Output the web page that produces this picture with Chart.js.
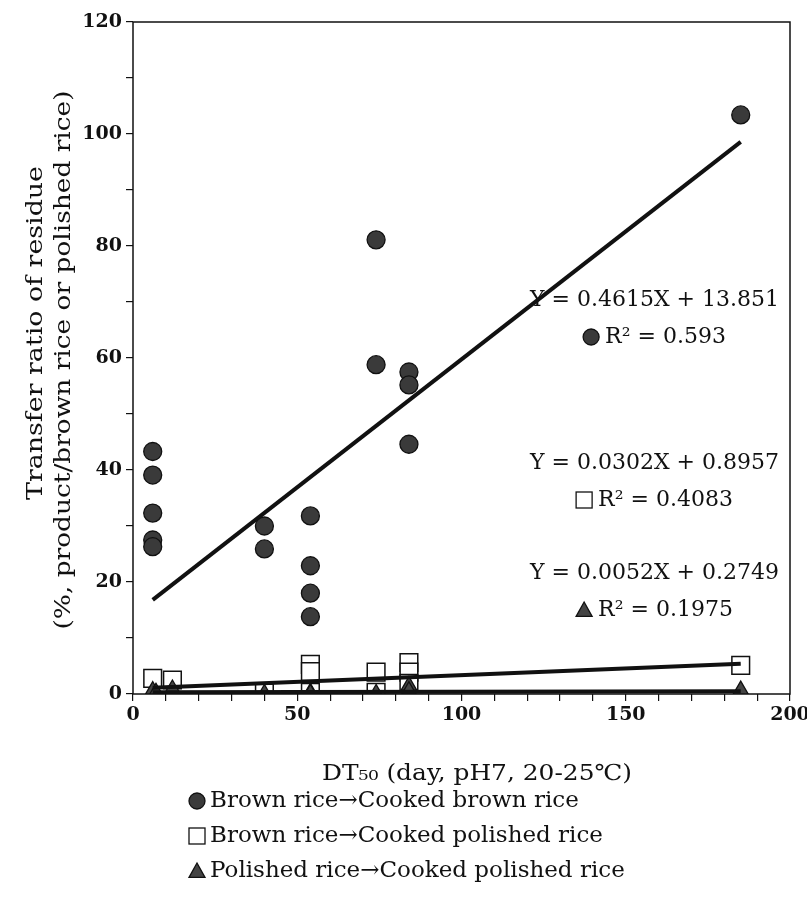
<!DOCTYPE html>
<html>
<head>
<meta charset="utf-8">
<script src="https://cdn.jsdelivr.net/npm/chart.js@4.4.1/dist/chart.umd.min.js"></script>
<style>
  html, body { margin: 0; padding: 0; background: #fff; }
  #wrap { width: 807px; height: 897px; position: relative; }
</style>
</head>
<body>
<div id="wrap"><canvas id="chart"></canvas></div>
<script>
/* ---- data ---- */
const brownX = [6, 6, 6, 6, 6, 40, 40, 54, 54, 54, 54, 74, 74, 84, 84, 84, 185];
const brownY = [43.3, 39.1, 32.3, 27.5, 26.3, 30.0, 25.9, 31.8, 22.9, 18.0, 13.8, 81.1, 58.8, 57.5, 55.2, 44.6, 103.4];

const squareX = [6, 12, 40, 54, 54, 54, 74, 74, 84, 84, 84, 185];
const squareY = [2.8, 2.5, 0.2, 5.3, 4.0, 0.3, 3.9, 0.3, 5.6, 3.9, 1.9, 5.1];

const triX = [6, 7, 12, 40, 54, 54, 74, 84, 84, 185];
const triY = [0.6, 0.3, 0.9, 0.1, 0.3, 0.1, 0.1, 1.5, 0.6, 0.7];

// regression line end points
const brownFitX  = [6, 185];
const brownFitY  = [16.8, 98.6];
const squareFitX = [6, 185];
const squareFitY = [1.1, 5.4];
const triFitX    = [6, 185];
const triFitY    = [0.3, 0.5];

const seriesNames = [
  'Brown rice\u2192Cooked brown rice',
  'Brown rice\u2192Cooked polished rice',
  'Polished rice\u2192Cooked polished rice'
];
const equations = [
  ['Y = 0.4615X + 13.851', 'R\u00b2 = 0.593'],
  ['Y = 0.0302X + 0.8957', 'R\u00b2 = 0.4083'],
  ['Y = 0.0052X + 0.2749', 'R\u00b2 = 0.1975']
];

const SERIF = '"DejaVu Serif", "Liberation Serif", serif';
const INK = '#111';

function pts(xs, ys) {
  return xs.map((x, i) => ({ x, y: ys[i] }));
}

// draw text stretched horizontally to a given width
function fitText(ctx, text, x, y, width, size) {
  ctx.font = size + 'px ' + SERIF;
  const s = width / ctx.measureText(text).width;
  ctx.save();
  ctx.translate(x, y);
  ctx.scale(s, 1);
  ctx.textAlign = 'center';
  ctx.fillText(text, 0, 0);
  ctx.restore();
}

/* ---- symbol helpers (legend + equation keys) ---- */
function drawSymbol(ctx, kind, cx, cy, r) {
  ctx.save();
  ctx.lineWidth = 1.3;
  ctx.strokeStyle = INK;
  if (kind === 'circle') {
    ctx.fillStyle = '#3a3a3a';
    ctx.beginPath();
    ctx.arc(cx, cy, r, 0, Math.PI * 2);
    ctx.fill();
    ctx.stroke();
  } else if (kind === 'rect') {
    ctx.fillStyle = '#fff';
    ctx.fillRect(cx - r, cy - r, 2 * r, 2 * r);
    ctx.strokeRect(cx - r, cy - r, 2 * r, 2 * r);
  } else {
    ctx.fillStyle = '#444';
    ctx.beginPath();
    ctx.moveTo(cx, cy - r);
    ctx.lineTo(cx + r, cy + r * 0.8);
    ctx.lineTo(cx - r, cy + r * 0.8);
    ctx.closePath();
    ctx.fill();
    ctx.stroke();
  }
  ctx.restore();
}

const KINDS = ['circle', 'rect', 'triangle'];

/* ---- annotations drawn on top ---- */
const annotations = {
  id: 'annotations',
  afterDraw(chart) {
    const ctx = chart.ctx;
    const a = chart.chartArea;
    ctx.save();

    // frame
    ctx.strokeStyle = INK;
    ctx.lineWidth = 1.5;
    ctx.strokeRect(a.left, a.top, a.right - a.left, a.bottom - a.top);

    ctx.fillStyle = INK;
    ctx.textBaseline = 'middle';

    // equations
    ctx.font = '22px ' + SERIF;
    const eqY = [300, 463, 573];
    equations.forEach((eq, i) => {
      ctx.textAlign = 'right';
      ctx.fillText(eq[0], 779, eqY[i]);
      const w0 = ctx.measureText(eq[0]).width;
      const cx = 779 - w0 / 2;
      const w1 = ctx.measureText(eq[1]).width;
      const total = 22 + w1;
      const sx = cx - total / 2;
      drawSymbol(ctx, KINDS[i], sx + 8, eqY[i] + 37, 8);
      ctx.textAlign = 'left';
      ctx.fillText(eq[1], sx + 22, eqY[i] + 37);
    });

    // x axis title
    fitText(ctx, 'DT\u2085\u2080 (day, pH7, 20-25\u2103)', 477, 774, 310, 22);

    // y axis title
    ctx.save();
    ctx.rotate(-Math.PI / 2);
    fitText(ctx, 'Transfer ratio of residue', -333, 36, 334, 23);
    fitText(ctx, '(%, product/brown rice or polished rice)', -360, 64, 539, 23);
    ctx.restore();

    // legend
    ctx.font = '23px ' + SERIF;
    ctx.textAlign = 'left';
    const legY = [801, 836, 871];
    seriesNames.forEach((name, i) => {
      drawSymbol(ctx, KINDS[i], 197, legY[i], 8);
      ctx.fillText(name, 210, legY[i]);
    });

    ctx.restore();
  }
};

const tickFont = { family: SERIF, size: 19, weight: 'bold' };

new Chart(document.getElementById('chart'), {
  type: 'scatter',
  data: {
    datasets: [
      {
        label: 'brown fit', type: 'line', data: pts(brownFitX, brownFitY),
        borderColor: INK, borderWidth: 4, pointRadius: 0, order: 1
      },
      {
        label: 'square fit', type: 'line', data: pts(squareFitX, squareFitY),
        borderColor: INK, borderWidth: 4, pointRadius: 0, order: 1
      },
      {
        label: 'triangle fit', type: 'line', data: pts(triFitX, triFitY),
        borderColor: INK, borderWidth: 4, pointRadius: 0, order: 1
      },
      {
        label: seriesNames[0], data: pts(brownX, brownY),
        pointStyle: 'circle', pointRadius: 9,
        backgroundColor: '#3a3a3a', borderColor: INK, borderWidth: 1.3, order: 4
      },
      {
        label: seriesNames[2], data: pts(triX, triY),
        pointStyle: 'triangle', pointRadius: 9,
        backgroundColor: '#444', borderColor: INK, borderWidth: 1.3, order: 2
      },
      {
        label: seriesNames[1], data: pts(squareX, squareY),
        pointStyle: 'rect', pointRadius: 12.5,
        backgroundColor: '#fff', borderColor: INK, borderWidth: 1.5, order: 3
      }
    ]
  },
  options: {
    responsive: true,
    maintainAspectRatio: false,
    animation: false,
    layout: { padding: { top: 22, right: 17, left: 0, bottom: 0 } },
    plugins: {
      legend: { display: false },
      tooltip: { enabled: false }
    },
    scales: {
      x: {
        type: 'linear', min: 0, max: 200,
        border: { display: false },
        grid: { drawOnChartArea: false, tickLength: 7, color: INK, lineWidth: 1.2 },
        ticks: {
          stepSize: 10, color: INK, font: tickFont, padding: 3, maxRotation: 0, autoSkip: false,
          callback: v => (v % 50 === 0 ? v : '')
        },
        afterFit(scale) {
          scale.height = 203;
          scale.paddingLeft = 0;
          scale.paddingRight = 0;
        }
      },
      y: {
        type: 'linear', min: 0, max: 120,
        border: { display: false },
        grid: { drawOnChartArea: false, tickLength: 7, color: INK, lineWidth: 1.2 },
        ticks: {
          stepSize: 10, color: INK, font: tickFont, padding: 4, autoSkip: false,
          callback: v => (v % 20 === 0 ? v : '')
        },
        afterFit(scale) {
          scale.width = 133;
          scale.paddingTop = 0;
          scale.paddingBottom = 0;
        }
      }
    }
  },
  plugins: [annotations]
});
</script>
</body>
</html>
